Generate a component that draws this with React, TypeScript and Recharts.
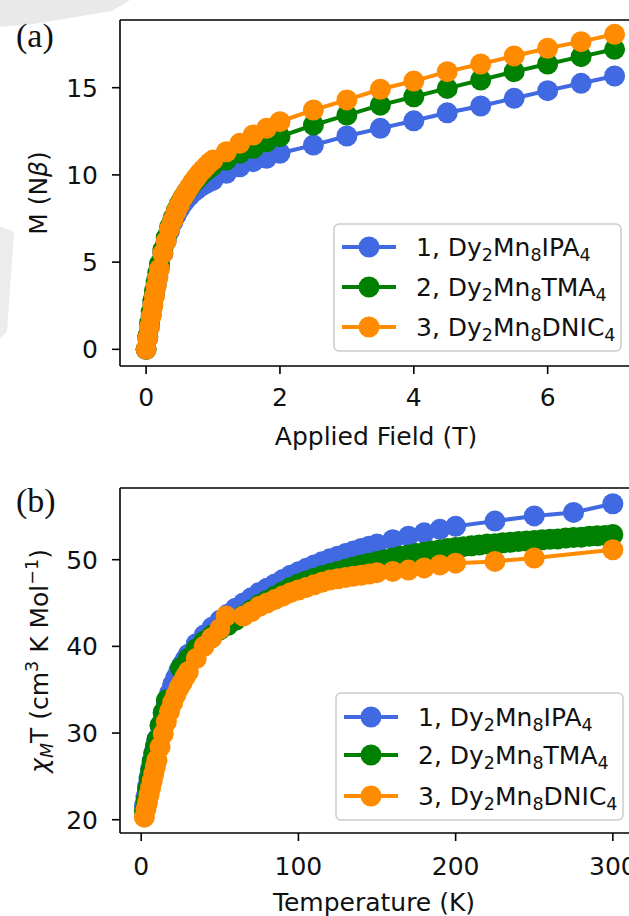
import { LineChart, Line, XAxis, YAxis, ReferenceLine } from "recharts"

// (a) magnetisation vs applied field
const fieldT = [0, 0.025, 0.05, 0.075, 0.1, 0.125, 0.15, 0.175, 0.2, 0.25, 0.3, 0.35, 0.4, 0.45, 0.5, 0.55, 0.6, 0.65, 0.7, 0.75, 0.8, 0.85, 0.9, 0.95, 1.0, 1.2, 1.4, 1.6, 1.8, 2.0, 2.5, 3.0, 3.5, 4.0, 4.5, 5.0, 5.5, 6.0, 6.5, 7.0]
const mag1 = [0, 0.65, 1.3, 1.95, 2.6, 3.15, 3.7, 4.2, 4.7, 5.5, 6.2, 6.8, 7.3, 7.7, 8.05, 8.35, 8.6, 8.8, 9.0, 9.15, 9.3, 9.42, 9.52, 9.62, 9.7, 10.09, 10.47, 10.76, 10.95, 11.24, 11.71, 12.23, 12.67, 13.1, 13.56, 13.95, 14.39, 14.83, 15.25, 15.67]
const mag2 = [0, 0.75, 1.5, 2.15, 2.8, 3.35, 3.9, 4.4, 4.9, 5.7, 6.4, 7.0, 7.5, 7.95, 8.35, 8.7, 9.0, 9.25, 9.5, 9.7, 9.9, 10.1, 10.25, 10.4, 10.55, 10.85, 11.24, 11.52, 11.9, 12.19, 12.86, 13.43, 14.0, 14.48, 14.96, 15.44, 15.92, 16.36, 16.78, 17.2]
const mag3 = [0, 0.65, 1.3, 1.9, 2.5, 3.05, 3.6, 4.1, 4.6, 5.5, 6.2, 6.9, 7.4, 7.9, 8.3, 8.7, 9.0, 9.3, 9.6, 9.85, 10.1, 10.3, 10.5, 10.7, 10.85, 11.33, 11.81, 12.29, 12.67, 13.05, 13.72, 14.3, 14.91, 15.38, 15.92, 16.36, 16.82, 17.26, 17.64, 18.06]

// (b) chi*T vs temperature, each sample has its own temperature grid
const temp1 = [2, 3, 4, 5, 6, 7, 8, 9, 10, 12, 14, 16, 18, 20, 22, 24, 26, 28, 30, 35, 40, 45, 50, 55, 60, 65, 70, 75, 80, 85, 90, 95, 100, 105, 110, 115, 120, 125, 130, 135, 140, 145, 150, 160, 170, 180, 190, 200, 225, 250, 275, 300]
const chi1 = [21.6, 22.7, 23.8, 24.9, 25.9, 26.8, 27.7, 28.5, 29.3, 30.8, 32.2, 33.5, 34.6, 35.6, 36.4, 37.2, 37.9, 38.5, 39.1, 40.3, 41.3, 42.2, 43.0, 43.7, 44.4, 45.0, 45.6, 46.2, 46.7, 47.2, 47.7, 48.2, 48.6, 49.0, 49.4, 49.75, 50.1, 50.4, 50.7, 51.0, 51.3, 51.55, 51.8, 52.3, 52.7, 53.1, 53.5, 53.85, 54.45, 55.05, 55.45, 56.45]
const temp2 = [2, 3, 4, 5, 6, 7, 8, 9, 10, 12, 14, 16, 25, 30, 35, 40, 45, 50, 55, 60, 65, 70, 75, 80, 85, 90, 95, 100, 105, 110, 115, 120, 125, 130, 135, 140, 145, 150, 155, 160, 165, 170, 175, 180, 185, 190, 195, 200, 205, 210, 215, 220, 225, 230, 235, 240, 245, 250, 255, 260, 265, 270, 275, 280, 285, 290, 295, 300]
const chi2 = [21.0, 22.2, 23.5, 24.6, 25.7, 26.7, 27.6, 28.4, 29.2, 30.9, 32.4, 33.8, 37.5, 38.6, 39.7, 40.6, 41.3, 41.9, 42.4, 43.0, 43.6, 44.2, 44.8, 45.3, 45.8, 46.3, 46.8, 47.2, 47.55, 47.85, 48.15, 48.4, 48.65, 48.9, 49.15, 49.4, 49.6, 49.8, 50.0, 50.2, 50.4, 50.55, 50.7, 50.85, 51.0, 51.15, 51.3, 51.4, 51.5, 51.6, 51.7, 51.8, 51.85, 51.95, 52.0, 52.1, 52.15, 52.2, 52.3, 52.35, 52.4, 52.5, 52.55, 52.6, 52.7, 52.75, 52.8, 52.9]
const temp3 = [2, 3, 4, 5, 6, 7, 8, 9, 10, 12, 14, 16, 18, 20, 22, 24, 26, 28, 30, 35, 40, 45, 50, 54, 65, 70, 75, 80, 85, 90, 95, 100, 105, 110, 115, 120, 125, 130, 135, 140, 145, 150, 160, 170, 180, 190, 200, 225, 250, 300]
const chi3 = [20.3, 21.2, 22.0, 22.9, 23.7, 24.5, 25.3, 26.1, 26.9, 28.4, 29.9, 31.3, 32.5, 33.5, 34.4, 35.2, 35.8, 36.5, 37.1, 38.6, 40.0, 41.0, 42.0, 43.5, 43.5, 44.0, 44.6, 45.0, 45.4, 45.8, 46.2, 46.5, 46.8, 47.1, 47.4, 47.65, 47.8, 47.95, 48.1, 48.2, 48.35, 48.5, 48.65, 48.8, 49.05, 49.4, 49.6, 49.8, 50.2, 51.15]

const samples = ["IPA", "TMA", "DNIC"]
const colors = ["#4169e1", "#008000", "#ff8c00"]

const pts = (xs: number[], ys: number[]) => xs.map((x, i) => ({ x, y: ys[i] }))

const FONT = "DejaVu Sans"
const tickStyle = { fontSize: 25, fontFamily: FONT, fill: "#111" }

type Series = { data: { x: number; y: number }[]; color: string }

function Panel(props: {
  top: number
  height: number
  marginTop: number
  xHeight: number
  xDomain: [number, number]
  yDomain: [number, number]
  xTicks: number[]
  yTicks: number[]
  xMargin: number
  series: Series[]
}) {
  const { top, height, marginTop, xHeight, xDomain, yDomain, xTicks, yTicks, xMargin, series } = props
  return (
    <div style={{ position: "absolute", left: 0, top, width: 660, height }}>
      <LineChart width={660} height={height} margin={{ top: marginTop, right: 22, left: 0, bottom: 0 }}>
        <XAxis
          type="number"
          dataKey="x"
          domain={xDomain}
          allowDataOverflow
          ticks={xTicks}
          interval={0}
          height={xHeight}
          tickSize={8}
          tickMargin={xMargin}
          axisLine={{ stroke: "#000", strokeWidth: 1.6 }}
          tickLine={{ stroke: "#000", strokeWidth: 1.6 }}
          tick={tickStyle}
        />
        <YAxis
          type="number"
          domain={yDomain}
          allowDataOverflow
          ticks={yTicks}
          interval={0}
          width={120}
          tickSize={8}
          tickMargin={14}
          axisLine={{ stroke: "#000", strokeWidth: 1.6 }}
          tickLine={{ stroke: "#000", strokeWidth: 1.6 }}
          tick={tickStyle}
        />
        <ReferenceLine y={yDomain[1]} stroke="#000" strokeWidth={1.6} />
        <ReferenceLine x={xDomain[1]} stroke="#000" strokeWidth={1.6} />
        {series.map((s, i) => (
          <Line
            key={i}
            data={s.data}
            dataKey="y"
            type="linear"
            stroke={s.color}
            strokeWidth={4}
            dot={{ r: 10.5, fill: s.color, stroke: "none" }}
            activeDot={false}
            isAnimationActive={false}
          />
        ))}
      </LineChart>
    </div>
  )
}

function LegendBox({ x, y, rows }: { x: number; y: number; rows: number[] }) {
  return (
    <g>
      <rect x={x} y={y} width={287} height={127} rx={5} fill="#fff" fillOpacity={0.8} stroke="#cccccc" strokeWidth={1.5} />
      {samples.map((name, i) => {
        const cy = y + rows[i]
        return (
          <g key={name}>
            <line x1={x + 8} x2={x + 62} y1={cy} y2={cy} stroke={colors[i]} strokeWidth={4} />
            <circle cx={x + 35} cy={cy} r={10.5} fill={colors[i]} />
            <text x={x + 82} y={cy + 9} fontSize={25} fontFamily={FONT} fill="#111">
              {`${i + 1}, Dy`}
              <tspan dy={5} fontSize={17.5}>2</tspan>
              <tspan dy={-5}>Mn</tspan>
              <tspan dy={5} fontSize={17.5}>8</tspan>
              <tspan dy={-5}>{name}</tspan>
              <tspan dy={5} fontSize={17.5}>4</tspan>
            </text>
          </g>
        )
      })}
    </g>
  )
}

export default function App() {
  const seriesA: Series[] = [mag1, mag2, mag3].map((m, i) => ({ data: pts(fieldT, m), color: colors[i] }))
  const seriesB: Series[] = [
    pts(temp1, chi1),
    pts(temp2, chi2),
    pts(temp3, chi3),
  ].map((d, i) => ({ data: d, color: colors[i] }))

  return (
    <div style={{ position: "fixed", left: 0, top: 0, width: 629, height: 916, overflow: "hidden", background: "#fff" }}>
      <svg width={629} height={916} style={{ position: "absolute", left: 0, top: 0 }}>
        <polygon points="0,0 130,0 112,11 34,24 0,27" fill="#e9e9e9" />
        <polygon points="0,226 14,232 7,332 0,338" fill="#ececec" />
      </svg>
      <Panel
        top={0}
        height={460}
        marginTop={20}
        xHeight={94}
        xDomain={[-0.39, 7.35]}
        yDomain={[-0.955, 18.88]}
        xTicks={[0, 2, 4, 6]}
        yTicks={[0, 5, 10, 15]}
        xMargin={14}
        series={seriesA}
      />
      <Panel
        top={460}
        height={456}
        marginTop={28}
        xHeight={83}
        xDomain={[-13.5, 316]}
        yDomain={[18.47, 58.27]}
        xTicks={[0, 100, 200, 300]}
        yTicks={[20, 30, 40, 50]}
        xMargin={16}
        series={seriesB}
      />
      <svg width={629} height={916} style={{ position: "absolute", left: 0, top: 0, pointerEvents: "none" }}>
        <text x={16} y={47} fontSize={34} fontFamily="Liberation Serif" fill="#111">(a)</text>
        <text x={16} y={512} fontSize={34} fontFamily="Liberation Serif" fill="#111">(b)</text>

        <text x={376} y={445} fontSize={25} fontFamily={FONT} textAnchor="middle" fill="#111">Applied Field (T)</text>
        <text x={374} y={911} fontSize={25} fontFamily={FONT} textAnchor="middle" fill="#111">Temperature (K)</text>

        <text transform="translate(47,193) rotate(-90)" fontSize={25} fontFamily={FONT} textAnchor="middle" fill="#111">
          M (N<tspan fontStyle="italic">β</tspan>)
        </text>
        <text transform="translate(48,661) rotate(-90)" fontSize={25} fontFamily={FONT} textAnchor="middle" fill="#111">
          <tspan fontStyle="italic">χ</tspan>
          <tspan dy={5} fontSize={17.5} fontStyle="italic">M</tspan>
          <tspan dy={-5}>T (cm</tspan>
          <tspan dy={-10} fontSize={17.5}>3</tspan>
          <tspan dy={10}> K Mol</tspan>
          <tspan dy={-10} fontSize={17.5}>−1</tspan>
          <tspan dy={10}>)</tspan>
        </text>

        <LegendBox x={334} y={224} rows={[23, 63, 103]} />
        <LegendBox x={336} y={693} rows={[24, 62, 103]} />
      </svg>
    </div>
  )
}
